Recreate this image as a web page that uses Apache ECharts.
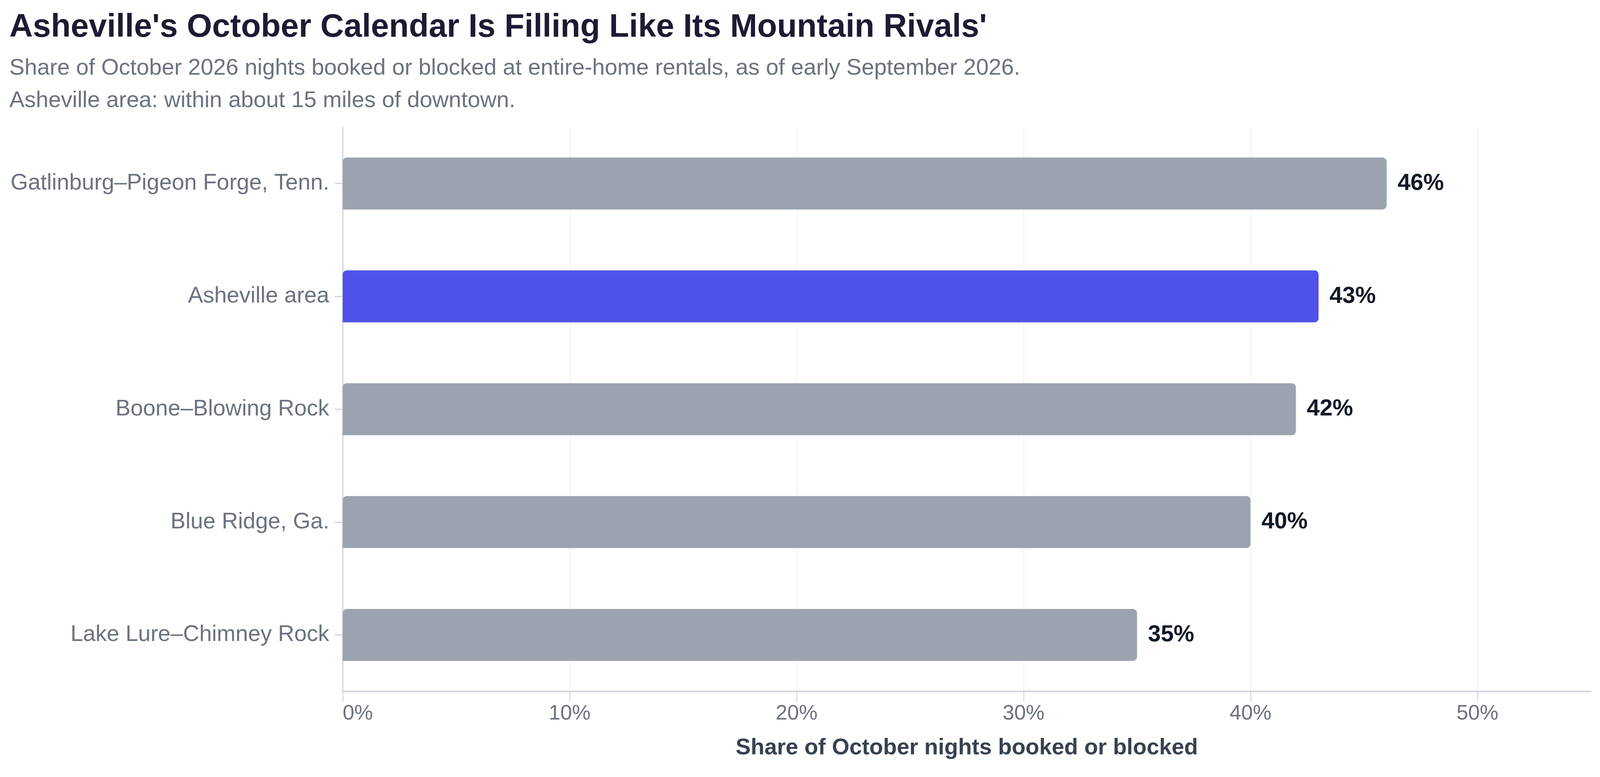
<!DOCTYPE html>
<html>
<head>
<meta charset="utf-8">
<title>Asheville October calendar</title>
<script src="https://cdn.jsdelivr.net/npm/echarts@6/dist/echarts.min.js"></script>
<style>
  html, body { margin: 0; padding: 0; background: #fff; overflow: hidden; }
  #chart { width: 100vw; height: 100vh; }
</style>
</head>
<body>
<div id="chart"></div>
<script>
// markets, top to bottom
const markets = [
  'Gatlinburg–Pigeon Forge, Tenn.',
  'Asheville area',
  'Boone–Blowing Rock',
  'Blue Ridge, Ga.',
  'Lake Lure–Chimney Rock'
];
// share of October nights booked or blocked, %
const shares = [46, 43, 42, 40, 35];
const highlight = 'Asheville area';
const xTicks = [0, 10, 20, 30, 40, 50];

const font = '"Liberation Sans", Arial, Helvetica, sans-serif';
const grey = '#9ca3b0';
const indigo = '#5053ea';
const axisGrey = '#d1d5db';

// sizes were measured on the 5122x1988 picture, scale them to the real window
const sx = window.innerWidth / 5122;
const sy = window.innerHeight / 1988;
const px = v => v * sx;   // horizontal sizes, fonts, line widths
const py = v => v * sy;   // vertical sizes

const chart = echarts.init(document.getElementById('chart'));

chart.setOption({
  backgroundColor: '#fff',
  animation: false,
  title: {
    text: "Asheville's October Calendar Is Filling Like Its Mountain Rivals'",
    subtext: 'Share of October 2026 nights booked or blocked at entire-home rentals, as of early September 2026.\nAsheville area: within about 15 miles of downtown.',
    left: px(30),
    top: py(16),
    padding: 0,
    itemGap: py(8),
    textStyle: {
      fontFamily: font,
      fontSize: px(104),
      fontWeight: 'bold',
      color: '#1c1b33',
      lineHeight: py(110)
    },
    subtextStyle: {
      fontFamily: font,
      fontSize: px(72.5),
      color: '#6b7280',
      lineHeight: py(83)
    }
  },
  grid: {
    left: px(1097),
    right: px(29),
    top: py(325),
    bottom: py(219),
    containLabel: false
  },
  xAxis: {
    type: 'value',
    min: 0,
    max: 55,
    interval: 10,
    name: 'Share of October nights booked or blocked',
    nameLocation: 'middle',
    nameGap: py(116),
    nameTextStyle: {
      fontFamily: font,
      fontSize: px(72),
      fontWeight: 'bold',
      color: '#374151'
    },
    axisLine: { show: true, lineStyle: { color: axisGrey, width: px(5) } },
    axisTick: {
      show: true,
      length: py(27),
      customValues: xTicks,
      lineStyle: { color: axisGrey, width: px(3) }
    },
    axisLabel: {
      fontFamily: font,
      fontSize: px(67),
      color: '#6b7280',
      margin: py(30),
      customValues: xTicks,
      alignMinLabel: 'left',
      formatter: v => v + '%'
    },
    splitLine: { show: true, lineStyle: { color: '#f1f2f5', width: px(3) } }
  },
  yAxis: {
    type: 'category',
    data: markets,
    inverse: true,
    axisLine: { show: true, lineStyle: { color: axisGrey, width: px(4) } },
    axisTick: {
      show: true,
      length: px(25),
      alignWithLabel: true,
      lineStyle: { color: axisGrey, width: px(4) }
    },
    axisLabel: {
      fontFamily: font,
      fontSize: px(72),
      color: '#6b7280',
      margin: px(43)
    },
    splitLine: { show: false }
  },
  series: [{
    type: 'bar',
    data: shares.map((v, i) => ({
      value: v,
      itemStyle: { color: markets[i] === highlight ? indigo : grey }
    })),
    barWidth: py(133),
    itemStyle: { borderRadius: [px(13), px(13), px(13), 0] },
    label: {
      show: true,
      position: 'right',
      distance: px(35),
      fontFamily: font,
      fontSize: px(74),
      fontWeight: 'bold',
      color: '#111827',
      formatter: p => p.value + '%'
    }
  }]
});
</script>
</body>
</html>
